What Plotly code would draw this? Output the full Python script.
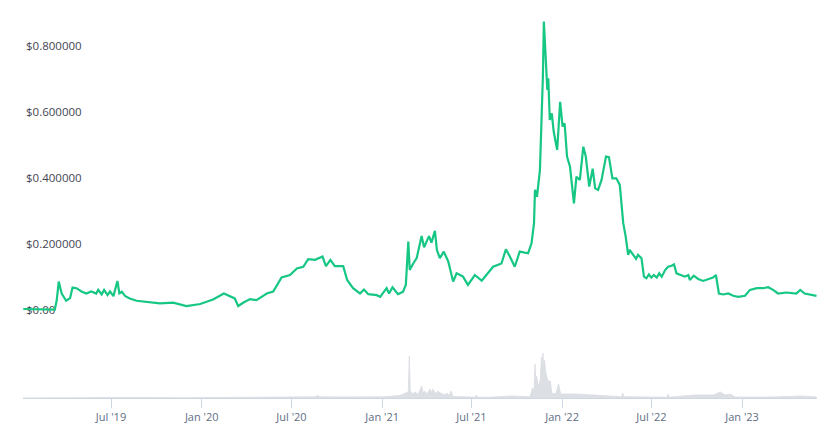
import plotly.graph_objects as go

price_dates = [
    "2019-01-04", "2019-02-05", "2019-03-09", "2019-03-13", "2019-03-17", "2019-03-23", "2019-04-01",
    "2019-04-09", "2019-04-14", "2019-04-22", "2019-05-02", "2019-05-12", "2019-05-22", "2019-06-01",
    "2019-06-05", "2019-06-12", "2019-06-17", "2019-06-24", "2019-06-29", "2019-07-06", "2019-07-14",
    "2019-07-18", "2019-07-23", "2019-07-30", "2019-08-08", "2019-08-22", "2019-09-11", "2019-10-08",
    "2019-11-04", "2019-12-01", "2019-12-29", "2020-01-24", "2020-02-15", "2020-02-27", "2020-03-08",
    "2020-03-15", "2020-03-25", "2020-04-08", "2020-04-21", "2020-05-12", "2020-05-25", "2020-06-11",
    "2020-06-28", "2020-07-12", "2020-07-25", "2020-08-04", "2020-08-18", "2020-09-02", "2020-09-09",
    "2020-09-18", "2020-09-27", "2020-10-14", "2020-10-22", "2020-11-03", "2020-11-17", "2020-11-25",
    "2020-12-04", "2020-12-21", "2020-12-28", "2021-01-10", "2021-01-15", "2021-01-22", "2021-02-02",
    "2021-02-12", "2021-02-18", "2021-02-23", "2021-02-26", "2021-03-05", "2021-03-12", "2021-03-22",
    "2021-03-27", "2021-04-01", "2021-04-06", "2021-04-11", "2021-04-18", "2021-04-22", "2021-04-28",
    "2021-05-06", "2021-05-15", "2021-05-25", "2021-06-01", "2021-06-08", "2021-06-14", "2021-06-24",
    "2021-07-08", "2021-07-22", "2021-08-14", "2021-08-31", "2021-09-09", "2021-09-17", "2021-09-27",
    "2021-10-07", "2021-10-24", "2021-10-31", "2021-11-05", "2021-11-07", "2021-11-11", "2021-11-17",
    "2021-11-20", "2021-11-23", "2021-11-25", "2021-11-29", "2021-12-02", "2021-12-04", "2021-12-07",
    "2021-12-11", "2021-12-15", "2021-12-22", "2021-12-28", "2022-01-02", "2022-01-06", "2022-01-11",
    "2022-01-17", "2022-01-25", "2022-01-30", "2022-02-06", "2022-02-13", "2022-02-18", "2022-02-25",
    "2022-03-04", "2022-03-09", "2022-03-15", "2022-03-22", "2022-03-31", "2022-04-06", "2022-04-13",
    "2022-04-21", "2022-04-28", "2022-05-05", "2022-05-10", "2022-05-15", "2022-05-18", "2022-05-25",
    "2022-05-31", "2022-06-04", "2022-06-11", "2022-06-16", "2022-06-21", "2022-06-26", "2022-07-01",
    "2022-07-06", "2022-07-12", "2022-07-17", "2022-07-22", "2022-07-29", "2022-08-04", "2022-08-11",
    "2022-08-16", "2022-08-21", "2022-08-28", "2022-09-07", "2022-09-14", "2022-09-17", "2022-09-25",
    "2022-10-04", "2022-10-14", "2022-10-24", "2022-11-03", "2022-11-09", "2022-11-12", "2022-11-15",
    "2022-11-24", "2022-12-04", "2022-12-14", "2022-12-24", "2023-01-07", "2023-01-17", "2023-01-31",
    "2023-02-13", "2023-02-23", "2023-03-05", "2023-03-15", "2023-04-01", "2023-04-21", "2023-04-29",
    "2023-05-08", "2023-05-22", "2023-06-01",
]
price_values = [
    0.003, 0.002, 0.001, 0.030, 0.086, 0.050, 0.028,
    0.036, 0.068, 0.066, 0.056, 0.050, 0.056, 0.050,
    0.061, 0.047, 0.061, 0.045, 0.056, 0.042, 0.088,
    0.050, 0.055, 0.042, 0.035, 0.028, 0.025, 0.020,
    0.022, 0.012, 0.018, 0.032, 0.050, 0.042, 0.035,
    0.012, 0.022, 0.033, 0.030, 0.050, 0.056, 0.099,
    0.106, 0.126, 0.131, 0.154, 0.152, 0.162, 0.133,
    0.152, 0.133, 0.133, 0.091, 0.066, 0.050, 0.062,
    0.048, 0.045, 0.040, 0.066, 0.050, 0.069, 0.048,
    0.055, 0.076, 0.207, 0.121, 0.141, 0.157, 0.224,
    0.190, 0.207, 0.224, 0.204, 0.240, 0.182, 0.157,
    0.177, 0.147, 0.086, 0.111, 0.106, 0.101, 0.076,
    0.106, 0.089, 0.131, 0.141, 0.184, 0.162, 0.131,
    0.177, 0.172, 0.202, 0.263, 0.364, 0.343, 0.424,
    0.556, 0.707, 0.874, 0.758, 0.667, 0.702, 0.576,
    0.596, 0.540, 0.485, 0.631, 0.556, 0.566, 0.465,
    0.434, 0.323, 0.404, 0.394, 0.495, 0.465, 0.374,
    0.428, 0.369, 0.364, 0.394, 0.465, 0.463, 0.399,
    0.399, 0.379, 0.263, 0.222, 0.167, 0.182, 0.167,
    0.155, 0.167, 0.157, 0.101, 0.096, 0.108, 0.098,
    0.106, 0.098, 0.111, 0.101, 0.121, 0.131, 0.134,
    0.138, 0.111, 0.106, 0.101, 0.106, 0.091, 0.104,
    0.094, 0.088, 0.094, 0.098, 0.106, 0.076, 0.050,
    0.047, 0.050, 0.043, 0.040, 0.043, 0.061, 0.066,
    0.066, 0.069, 0.061, 0.050, 0.053, 0.050, 0.061,
    0.050, 0.045, 0.043,
]

# trading volume (billions USD, approximate)
volume_dates = [
    "2019-01-04", "2019-03-10", "2019-03-17", "2019-07-14", "2019-12-01", "2020-03-15", "2020-06-04",
    "2020-08-20", "2020-08-23", "2020-08-26", "2020-10-15", "2021-01-03", "2021-02-06", "2021-02-16",
    "2021-02-23", "2021-02-25", "2021-02-27", "2021-03-04", "2021-03-09", "2021-03-15", "2021-03-19",
    "2021-03-22", "2021-03-25", "2021-03-28", "2021-04-02", "2021-04-08", "2021-04-11", "2021-04-14",
    "2021-04-19", "2021-04-24", "2021-04-28", "2021-05-03", "2021-05-08", "2021-05-12", "2021-05-17",
    "2021-05-21", "2021-05-24", "2021-05-28", "2021-07-09", "2021-07-11", "2021-07-13", "2021-08-07",
    "2021-09-20", "2021-10-28", "2021-11-02", "2021-11-05", "2021-11-07", "2021-11-09", "2021-11-10",
    "2021-11-13", "2021-11-15", "2021-11-18", "2021-11-20", "2021-11-22", "2021-11-23", "2021-11-25",
    "2021-11-26", "2021-11-29", "2021-12-03", "2021-12-08", "2021-12-11", "2021-12-19", "2021-12-25",
    "2021-12-29", "2022-01-27", "2022-03-04", "2022-04-08", "2022-05-02", "2022-05-04", "2022-05-06",
    "2022-05-19", "2022-08-02", "2022-08-04", "2022-08-06", "2022-09-27", "2022-11-04", "2022-11-18",
    "2022-11-28", "2022-12-08", "2022-12-18", "2023-03-01", "2023-05-02", "2023-06-01",
]
volume_values = [
    0.0, 0.02, 0.06, 0.05, 0.03, 0.04, 0.10,
    0.12, 0.30, 0.12, 0.10, 0.12, 0.25, 0.45,
    0.60, 4.20, 0.70, 0.40, 0.60, 0.35, 0.80,
    1.20, 0.50, 0.70, 0.40, 0.90, 0.55, 0.90,
    0.45, 0.70, 0.50, 0.45, 0.30, 0.50, 0.25,
    0.70, 0.20, 0.15, 0.08, 0.30, 0.08, 0.08,
    0.20, 0.12, 1.00, 0.70, 3.40, 1.50, 2.20,
    1.20, 1.00, 2.00, 4.10, 2.50, 4.50, 3.00,
    3.80, 2.50, 1.70, 1.70, 0.50, 0.40, 1.40,
    0.40, 0.40, 0.30, 0.20, 0.12, 0.50, 0.12,
    0.12, 0.08, 0.40, 0.08, 0.30, 0.30, 0.60,
    0.30, 0.40, 0.10, 0.10, 0.20, 0.10,
]

tick_dates = ["2019-07-01", "2020-01-01", "2020-07-01", "2021-01-01",
              "2021-07-01", "2022-01-01", "2022-07-01", "2023-01-01"]
tick_text = ["Jul '19", "Jan '20", "Jul '20", "Jan '21",
             "Jul '21", "Jan '22", "Jul '22", "Jan '23"]

price_ticks = [0.0, 0.2, 0.4, 0.6, 0.8]
price_tick_text = ["$0.00", "$0.200000", "$0.400000", "$0.600000", "$0.800000"]

fig = go.Figure()
fig.add_trace(go.Scatter(
    x=volume_dates, y=volume_values, yaxis="y2", mode="lines",
    line=dict(color="#d9dce2", width=0.8), fill="tozeroy", fillcolor="#dcdfe4",
    hoverinfo="skip", showlegend=False,
))
fig.add_trace(go.Scatter(
    x=price_dates, y=price_values, mode="lines",
    line=dict(color="#16c784", width=2.2), showlegend=False,
))

fig.update_layout(
    width=838, height=434,
    margin=dict(l=23, r=21, t=10, b=36),
    paper_bgcolor="white", plot_bgcolor="white",
    font=dict(family="Open Sans", size=11, color="#58667e"),
    xaxis=dict(
        range=["2019-01-03 12:00", "2023-06-02"],
        tickvals=tick_dates, ticktext=tick_text,
        showgrid=False, zeroline=False,
        showline=True, linecolor="#cfd6e4", linewidth=1,
        ticks="outside", ticklen=9, tickcolor="#cfd6e4",
        tickfont=dict(size=11, color="#616e85"),
    ),
    yaxis=dict(
        range=[-0.2667, 0.9091],
        tickvals=price_ticks, ticktext=price_tick_text,
        ticklabelposition="inside", showgrid=False, zeroline=False,
        showline=False, ticks="", layer="below traces",
        tickfont=dict(size=11.5, color="#3f4552"),
    ),
    yaxis2=dict(
        overlaying="y", range=[0, 38.8], visible=False,
    ),
)

fig.write_html("out.html")
